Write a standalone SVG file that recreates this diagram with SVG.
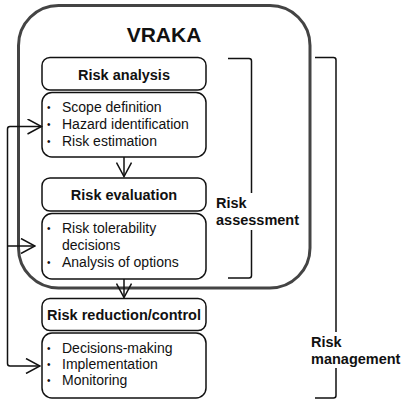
<svg xmlns="http://www.w3.org/2000/svg" width="403" height="403" viewBox="0 0 403 403">
<style>
text{font-family:"Liberation Sans",Arial,sans-serif;fill:#111}
.h{font-size:14.5px;font-weight:bold;text-anchor:middle}
.b{font-size:14px}
.d{font-size:10px}
.lb{font-size:14.5px;font-weight:bold}
.box{fill:#fff;stroke:#111;stroke-width:1.5}
.ln{fill:none;stroke:#111;stroke-width:1.5}
</style>
<defs>
<marker id="ah" viewBox="0 0 16 16" refX="15" refY="8" markerWidth="16" markerHeight="16" markerUnits="userSpaceOnUse" orient="auto">
<path d="M1,0.5 L15,8 L1,15.5" fill="none" stroke="#111" stroke-width="1.5"/>
</marker>
</defs>
<g id="vraka">
<rect x="18.5" y="5.5" width="291.5" height="282.5" rx="40" fill="none" stroke="#444" stroke-width="3"/>
<text x="164" y="42" style="font-size:21px;font-weight:bold;text-anchor:middle">VRAKA</text>
</g>
<g id="risk-analysis">
<rect class="box" x="42" y="57.5" width="164" height="32.5" rx="8"/>
<text class="h" x="124" y="80">Risk analysis</text>
</g>
<g id="risk-analysis-items">
<rect class="box" x="42" y="92.5" width="164" height="64.5" rx="10"/>
<text class="d" x="47" y="111">•</text><text class="b" x="62" y="112">Scope definition</text>
<text class="d" x="47" y="128">•</text><text class="b" x="62" y="129">Hazard identification</text>
<text class="d" x="47" y="145">•</text><text class="b" x="62" y="146">Risk estimation</text>
</g>
<g id="risk-evaluation">
<rect class="box" x="42" y="178" width="164" height="33" rx="8"/>
<text class="h" x="124" y="200">Risk evaluation</text>
</g>
<g id="risk-evaluation-items">
<rect class="box" x="42" y="213.5" width="164" height="65.5" rx="10"/>
<text class="d" x="47" y="232">•</text><text class="b" x="62" y="233">Risk tolerability</text>
<text class="b" x="62" y="250">decisions</text>
<text class="d" x="47" y="266">•</text><text class="b" x="62" y="267">Analysis of options</text>
</g>
<g id="risk-reduction">
<rect class="box" x="42" y="298.5" width="164" height="32" rx="8"/>
<text class="h" x="124" y="320">Risk reduction/control</text>
</g>
<g id="risk-reduction-items">
<rect class="box" x="42" y="333" width="164" height="65" rx="10"/>
<text class="d" x="47" y="352">•</text><text class="b" x="62" y="353">Decisions-making</text>
<text class="d" x="47" y="368">•</text><text class="b" x="62" y="369">Implementation</text>
<text class="d" x="47" y="384">•</text><text class="b" x="62" y="385">Monitoring</text>
</g>
<g id="risk-assessment">
<path class="ln" d="M228,58.5 H249 Q251.5,58.5 251.5,61 V193 M251.5,230 V275.5 Q251.5,278 249,278 H228"/>
<text class="lb" x="216" y="208">Risk</text>
<text class="lb" x="216" y="225">assessment</text>
</g>
<g id="risk-management">
<path class="ln" d="M315,57.5 H333.5 Q336,57.5 336,60 V332 M336,368 V395.5 Q336,398 333.5,398 H315"/>
<text class="lb" x="311" y="347">Risk</text>
<text class="lb" x="311" y="364">management</text>
</g>
<g id="connectors">
<path class="ln" d="M124,157 V176.5" marker-end="url(#ah)"/>
<path class="ln" d="M124,279 V297.5" marker-end="url(#ah)"/>
<path class="ln" d="M10,126.5 Q7.5,126.5 7.5,129 V363.5 Q7.5,366 10,366 H40" marker-end="url(#ah)"/>
<path class="ln" d="M7.5,246 H35" marker-end="url(#ah)"/>
<path class="ln" d="M10,126.5 H41.5" marker-end="url(#ah)"/>
</g>
</svg>
